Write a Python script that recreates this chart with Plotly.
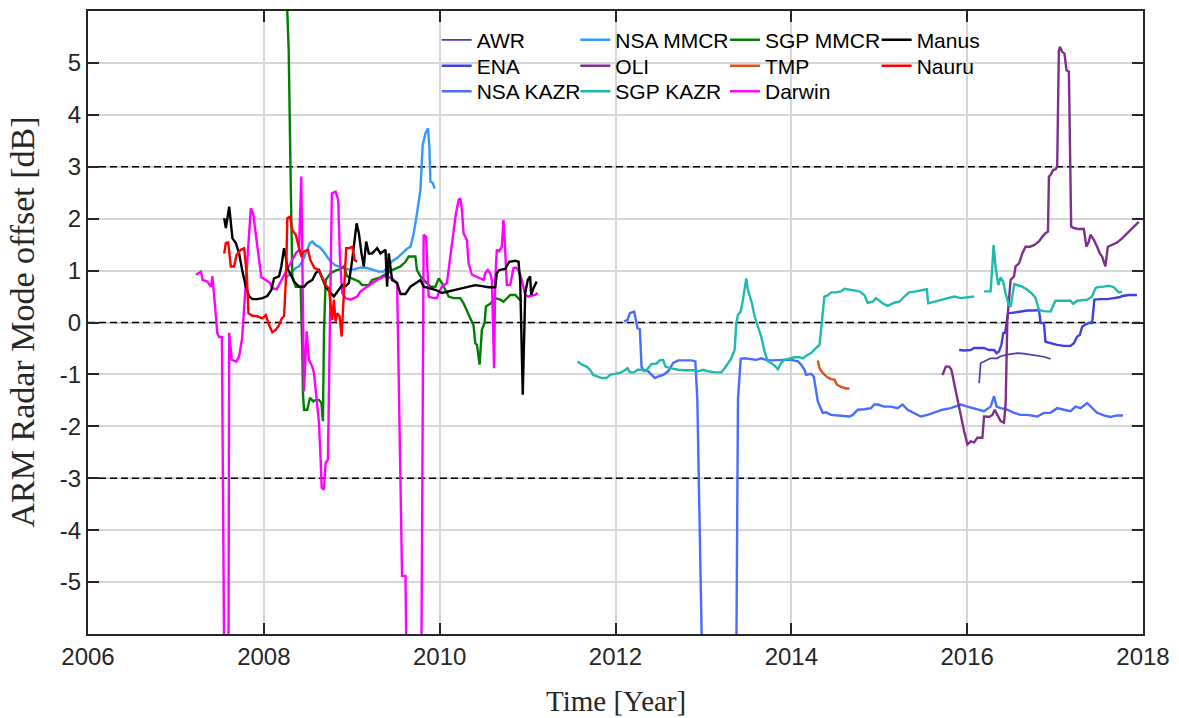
import plotly.graph_objects as go

# ---------------- data (year, dB) ----------------
awr_t = [2016.136, 2016.154, 2016.192, 2016.267, 2016.343, 2016.381, 2016.457, 2016.533, 2016.570, 2016.646, 2016.721, 2016.797, 2016.873, 2016.948]
awr_v = [-1.17, -0.78, -0.75, -0.69, -0.69, -0.65, -0.62, -0.59, -0.59, -0.60, -0.62, -0.64, -0.66, -0.70]

ena_t = [2015.909, 2015.966, 2016.040, 2016.079, 2016.116, 2016.192, 2016.249, 2016.306, 2016.335, 2016.362,
         2016.389, 2016.411, 2016.431, 2016.465, 2016.487, 2016.533, 2016.608, 2016.684, 2016.760, 2016.817,
         2016.835, 2016.873, 2016.891, 2016.948, 2017.024, 2017.100, 2017.175, 2017.214, 2017.251, 2017.281,
         2017.308, 2017.345, 2017.384, 2017.421, 2017.447, 2017.515, 2017.592, 2017.667, 2017.742, 2017.762,
         2017.838, 2017.932]
ena_v = [-0.53, -0.54, -0.53, -0.49, -0.49, -0.49, -0.53, -0.53, -0.59, -0.56,
         -0.43, -0.20, -0.20, 0.18, 0.18, 0.19, 0.21, 0.23, 0.23, 0.24,
         -0.01, -0.01, -0.37, -0.40, -0.43, -0.45, -0.45, -0.40, -0.27, -0.24,
         -0.08, -0.04, -0.01, -0.01, 0.44, 0.45, 0.45, 0.47, 0.49, 0.51,
         0.53, 0.53]

nsa_kazr_t = [2012.099, 2012.137, 2012.164, 2012.213, 2012.250, 2012.277, 2012.296, 2012.315, 2012.372, 2012.409,
              2012.448, 2012.485, 2012.542, 2012.599, 2012.656, 2012.712, 2012.788, 2012.863, 2012.908, 2012.931,
              2012.985, 2013.374, 2013.393, 2013.424, 2013.469, 2013.544, 2013.601, 2013.657, 2013.714, 2013.771,
              2013.847, 2013.923, 2013.998, 2014.074, 2014.111, 2014.150, 2014.168, 2014.225, 2014.255, 2014.281,
              2014.301, 2014.357, 2014.395, 2014.452, 2014.565, 2014.661, 2014.698, 2014.755, 2014.831, 2014.906,
              2014.944, 2014.982, 2015.058, 2015.133, 2015.209, 2015.265, 2015.322, 2015.398, 2015.473, 2015.549,
              2015.625, 2015.719, 2015.813, 2015.927, 2016.003, 2016.116, 2016.192, 2016.267, 2016.306, 2016.335,
              2016.381, 2016.457, 2016.533, 2016.608, 2016.684, 2016.797, 2016.873, 2016.948, 2017.024, 2017.100,
              2017.175, 2017.232, 2017.289, 2017.365, 2017.421, 2017.478, 2017.554, 2017.629, 2017.705, 2017.773]
nsa_kazr_v = [0.02, 0.05, 0.18, 0.21, -0.11, -0.13, -0.85, -0.91, -0.94, -1.01,
              -1.07, -1.04, -1.01, -0.94, -0.78, -0.73, -0.73, -0.73, -0.75, -1.49,
              -6.5, -6.5, -1.49, -0.70, -0.69, -0.70, -0.72, -0.69, -0.72, -0.73,
              -0.72, -0.72, -0.72, -0.75, -0.81, -0.91, -1.01, -0.99, -1.04, -1.36,
              -1.52, -1.74, -1.73, -1.78, -1.79, -1.81, -1.78, -1.68, -1.67, -1.65,
              -1.58, -1.58, -1.62, -1.62, -1.65, -1.58, -1.68, -1.74, -1.81, -1.78,
              -1.74, -1.68, -1.65, -1.58, -1.62, -1.68, -1.71, -1.62, -1.42, -1.62,
              -1.65, -1.68, -1.74, -1.78, -1.78, -1.81, -1.74, -1.74, -1.65, -1.68,
              -1.71, -1.62, -1.65, -1.55, -1.65, -1.74, -1.79, -1.82, -1.79, -1.79]

nsa_mmcr_t = [2008.249, 2008.306, 2008.363, 2008.400, 2008.437, 2008.468, 2008.525, 2008.551, 2008.590, 2008.627,
              2008.664, 2008.703, 2008.760, 2008.816, 2008.891, 2008.967, 2009.024, 2009.100, 2009.175, 2009.251,
              2009.308, 2009.365, 2009.459, 2009.516, 2009.572, 2009.629, 2009.668, 2009.705, 2009.742, 2009.781,
              2009.807, 2009.838, 2009.867, 2009.883, 2009.895, 2009.921, 2009.943]
nsa_mmcr_v = [0.85, 0.95, 1.05, 1.08, 1.17, 1.30, 1.53, 1.56, 1.49, 1.46,
              1.40, 1.31, 1.17, 1.10, 1.06, 1.02, 1.02, 1.06, 1.05, 1.01,
              0.98, 0.98, 1.18, 1.24, 1.33, 1.42, 1.46, 1.72, 2.10, 2.55,
              3.42, 3.64, 3.74, 3.38, 2.71, 2.69, 2.58]

oli_t = [2015.719, 2015.757, 2015.795, 2015.821, 2015.852, 2015.889, 2015.927, 2015.966, 2016.003, 2016.040,
         2016.079, 2016.116, 2016.173, 2016.192, 2016.210, 2016.249, 2016.287, 2016.313, 2016.343, 2016.381,
         2016.419, 2016.438, 2016.457, 2016.494, 2016.533, 2016.551, 2016.590, 2016.627, 2016.664, 2016.714,
         2016.760, 2016.817, 2016.854, 2016.891, 2016.919, 2016.930, 2016.948, 2016.979, 2017.005, 2017.024,
         2017.043, 2017.055, 2017.081, 2017.107, 2017.130, 2017.157, 2017.183, 2017.214, 2017.270, 2017.327,
         2017.356, 2017.384, 2017.402, 2017.441, 2017.478, 2017.509, 2017.535, 2017.572, 2017.600, 2017.648,
         2017.705, 2017.762, 2017.818, 2017.856, 2017.894, 2017.951]
oli_v = [-1.01, -0.85, -0.85, -0.91, -1.17, -1.49, -1.81, -2.10, -2.35, -2.29,
         -2.31, -2.22, -2.22, -1.81, -1.81, -1.82, -1.78, -1.68, -1.78, -1.90,
         -1.93, -1.55, 0.05, 0.82, 0.89, 1.08, 1.14, 1.33, 1.46, 1.46,
         1.49, 1.56, 1.65, 1.72, 1.75, 2.81, 2.84, 2.94, 2.95, 3.00,
         5.24, 5.31, 5.21, 5.18, 4.86, 4.83, 1.85, 1.82, 1.80, 1.80,
         1.46, 1.56, 1.69, 1.59, 1.46, 1.33, 1.27, 1.08, 1.46, 1.49,
         1.54, 1.62, 1.72, 1.78, 1.85, 1.94]

sgp_kazr_t = [2011.569, 2011.615, 2011.671, 2011.710, 2011.747, 2011.785, 2011.842, 2011.898, 2011.937, 2011.994,
              2012.050, 2012.088, 2012.137, 2012.164, 2012.213, 2012.250, 2012.296, 2012.334, 2012.372, 2012.409,
              2012.466, 2012.504, 2012.542, 2012.568, 2012.618, 2012.712, 2012.788, 2012.901, 2012.939, 2012.996,
              2013.052, 2013.128, 2013.203, 2013.242, 2013.279, 2013.317, 2013.355, 2013.374, 2013.393, 2013.424,
              2013.450, 2013.469, 2013.487, 2013.506, 2013.526, 2013.552, 2013.582, 2013.620, 2013.657, 2013.696,
              2013.733, 2013.771, 2013.810, 2013.847, 2013.884, 2013.923, 2013.980, 2014.036, 2014.093, 2014.131,
              2014.168, 2014.225, 2014.281, 2014.320, 2014.346, 2014.376, 2014.414, 2014.452, 2014.508, 2014.565,
              2014.604, 2014.661, 2014.717, 2014.774, 2014.831, 2014.868, 2014.925, 2014.962, 2015.038, 2015.095,
              2015.171, 2015.228, 2015.285, 2015.341, 2015.416, 2015.492, 2015.541, 2015.557, 2015.625, 2015.700,
              2015.776, 2015.852, 2015.927, 2016.003, 2016.079, 2016.130, 2016.192, 2016.267, 2016.301, 2016.324,
              2016.355, 2016.381, 2016.411, 2016.438, 2016.476, 2016.494, 2016.536, 2016.570, 2016.627, 2016.684,
              2016.740, 2016.778, 2016.817, 2016.873, 2016.948, 2017.005, 2017.100, 2017.175, 2017.206, 2017.251,
              2017.365, 2017.421, 2017.459, 2017.478, 2017.554, 2017.611, 2017.667, 2017.724, 2017.762]
sgp_kazr_v = [-0.75, -0.81, -0.85, -0.91, -1.01, -1.03, -1.07, -1.07, -1.01, -0.99,
              -0.97, -0.94, -0.88, -0.96, -0.96, -0.91, -0.91, -0.94, -0.88, -0.80,
              -0.79, -0.73, -0.72, -0.85, -0.88, -0.91, -0.92, -0.92, -0.94, -0.91,
              -0.94, -0.96, -0.96, -0.88, -0.78, -0.69, -0.53, -0.01, 0.15, 0.21,
              0.44, 0.63, 0.85, 0.63, 0.53, 0.37, 0.12, -0.08, -0.27, -0.56,
              -0.75, -0.78, -0.83, -0.90, -0.78, -0.72, -0.70, -0.67, -0.67, -0.69,
              -0.64, -0.59, -0.49, -0.43, -0.01, 0.50, 0.52, 0.58, 0.58, 0.60,
              0.65, 0.63, 0.61, 0.60, 0.53, 0.38, 0.40, 0.47, 0.37, 0.32,
              0.38, 0.40, 0.50, 0.58, 0.60, 0.62, 0.64, 0.37, 0.40, 0.44,
              0.47, 0.50, 0.47, 0.49, 0.50, None, 0.60, 0.60, 1.49, 1.05,
              0.72, 0.87, 0.78, 0.55, 0.34, 0.30, 0.74, 0.72, 0.69, 0.63,
              0.55, 0.47, 0.24, 0.22, 0.21, 0.42, 0.42, 0.42, 0.36, 0.42,
              0.44, 0.50, 0.66, 0.68, 0.69, 0.71, 0.68, 0.58, 0.59]

sgp_mmcr_t = [2008.256, 2008.283, 2008.303, 2008.324, 2008.363, 2008.419, 2008.437, 2008.445, 2008.457, 2008.494,
              2008.525, 2008.562, 2008.590, 2008.627, 2008.655, 2008.672, 2008.684, 2008.695, 2008.703, 2008.760,
              2008.816, 2008.873, 2008.911, 2008.948, 2009.005, 2009.081, 2009.118, 2009.194, 2009.232, 2009.289,
              2009.327, 2009.402, 2009.459, 2009.554, 2009.611, 2009.648, 2009.724, 2009.742, 2009.781, 2009.830,
              2009.895, 2009.951, 2009.989, 2010.026, 2010.065, 2010.102, 2010.159, 2010.235, 2010.272, 2010.310,
              2010.348, 2010.386, 2010.405, 2010.424, 2010.454, 2010.480, 2010.511, 2010.526, 2010.575, 2010.632,
              2010.689, 2010.726, 2010.764, 2010.802, 2010.859, 2010.897, 2010.934]
sgp_mmcr_v = [6.5, 5.24, 3.0, 0.90, 0.69, 0.69, -0.50, -1.36, -1.68, -1.68,
              -1.45, -1.52, -1.49, -1.49, -1.55, -1.90, -0.20, 0.44, 0.82, 0.95,
              1.00, 1.03, 1.08, 0.89, 0.85, 0.79, 0.72, 0.72, 0.82, 0.85,
              0.87, 0.95, 1.01, 1.08, 1.17, 1.27, 1.27, 1.01, 0.89, 0.80,
              0.69, 0.69, 0.85, 0.76, 0.63, 0.50, 0.47, 0.47, 0.37, 0.21,
              0.08, -0.06, -0.40, -0.43, -0.81, -0.14, -0.01, 0.31, 0.36, 0.47,
              0.44, 0.40, 0.47, 0.53, 0.53, 0.47, 0.40]

tmp_t = [2014.301, 2014.320, 2014.357, 2014.406, 2014.452, 2014.490, 2014.520, 2014.565, 2014.622, 2014.661]
tmp_v = [-0.73, -0.88, -0.97, -1.05, -1.09, -1.10, -1.20, -1.24, -1.27, -1.27]

darwin_t = [2007.228, 2007.285, 2007.303, 2007.359, 2007.398, 2007.416, 2007.455, 2007.470, 2007.492, 2007.523,
            2007.549, 2007.598, 2007.606, 2007.636, 2007.689, 2007.719, 2007.753, 2007.852, 2007.878, 2007.909,
            2007.927, 2007.946, 2007.972, 2008.022, 2008.071, 2008.097, 2008.147, 2008.192, 2008.249, 2008.324,
            2008.363, 2008.400, 2008.426, 2008.457, 2008.487, 2008.513, 2008.551, 2008.570, 2008.608, 2008.627,
            2008.646, 2008.658, 2008.684, 2008.703, 2008.729, 2008.760, 2008.774, 2008.816, 2008.846, 2008.865,
            2008.891, 2008.930, 2008.987, 2009.062, 2009.100, 2009.175, 2009.232, 2009.289, 2009.345, 2009.384,
            2009.459, 2009.516, 2009.572, 2009.611, 2009.622, 2009.792, 2009.818, 2009.845, 2009.875, 2009.932,
            2009.969, 2009.989, 2010.026, 2010.083, 2010.121, 2010.159, 2010.185, 2010.216, 2010.235, 2010.253,
            2010.272, 2010.310, 2010.329, 2010.367, 2010.443, 2010.499, 2010.519, 2010.548, 2010.575, 2010.594,
            2010.619, 2010.632, 2010.650, 2010.677, 2010.707, 2010.726, 2010.738, 2010.752, 2010.764, 2010.802,
            2010.820, 2010.840, 2010.866, 2010.897, 2010.934, 2010.973, 2011.010, 2011.086, 2011.116]
darwin_v = [0.92, 0.98, 0.82, 0.79, 0.69, 0.89, 0.12, -0.20, -0.28, -0.28,
            -6.5, -6.5, -0.20, -0.72, -0.75, -0.65, -0.30, 2.20, 2.10, 1.72,
            1.40, 1.27, 0.87, 0.82, 0.76, 0.66, 0.64, 0.79, 0.98, 1.20,
            1.33, 1.40, 2.81, -1.33, -0.17, -0.72, -0.85, -0.97, -1.68, -1.93,
            -2.64, -3.18, -3.22, -2.70, -2.64, 0.44, 2.49, 2.52, 2.36, 1.27,
            0.57, 0.47, 0.44, 0.50, 0.60, 0.69, 0.76, 0.82, 0.87, 0.89,
            0.85, 0.76, -4.88, -4.88, -6.5, -6.5, 1.69, 1.65, 0.50, 0.47,
            0.47, 0.57, 0.69, 0.76, 1.27, 1.78, 2.10, 2.36, 2.39, 2.17,
            1.72, 1.59, 1.14, 0.92, 0.87, 0.82, 0.95, 1.01, 0.95, 0.82,
            -0.88, 0.82, 1.40, 1.37, 1.46, 1.98, 1.65, 1.14, 0.72, 0.72,
            0.89, 1.05, 1.06, 1.01, 0.82, 0.53, 0.50, 0.53, 0.57]

manus_t = [2007.549, 2007.568, 2007.606, 2007.625, 2007.643, 2007.682, 2007.719, 2007.757, 2007.795, 2007.833,
           2007.870, 2007.927, 2007.984, 2008.040, 2008.086, 2008.116, 2008.173, 2008.199, 2008.230, 2008.249,
           2008.267, 2008.306, 2008.343, 2008.400, 2008.457, 2008.494, 2008.551, 2008.590, 2008.627, 2008.664,
           2008.703, 2008.760, 2008.797, 2008.891, 2008.930, 2008.967, 2009.005, 2009.055, 2009.081, 2009.111,
           2009.137, 2009.164, 2009.194, 2009.232, 2009.289, 2009.327, 2009.384, 2009.402, 2009.421, 2009.459,
           2009.516, 2009.554, 2009.611, 2009.668, 2009.724, 2009.781, 2009.818, 2009.875, 2009.951, 2010.026,
           2010.102, 2010.178, 2010.253, 2010.329, 2010.405, 2010.480, 2010.556, 2010.632, 2010.650, 2010.677,
           2010.745, 2010.791, 2010.859, 2010.897, 2010.916, 2010.945, 2010.973, 2011.002, 2011.029, 2011.041,
           2011.067, 2011.104]
manus_v = [2.01, 1.82, 2.23, 1.94, 1.62, 1.53, 1.33, 0.98, 0.69, 0.50,
           0.45, 0.45, 0.47, 0.51, 0.63, 0.85, 0.89, 1.08, 1.43, 1.27,
           1.05, 0.92, 0.79, 0.69, 0.69, 0.76, 0.82, 0.95, 1.01, 0.85,
           0.69, 0.57, 0.50, 0.72, 0.70, 0.76, 1.20, 1.91, 1.72, 1.33,
           1.08, 1.56, 1.33, 1.33, 1.43, 1.33, 1.40, 0.69, 1.33, 0.82,
           0.76, 0.55, 0.55, 0.69, 0.76, 0.82, 0.69, 0.66, 0.63, 0.57,
           0.60, 0.63, 0.66, 0.69, 0.72, 0.70, 0.68, 0.68, 0.95, 1.01,
           1.03, 1.17, 1.19, 1.17, 0.80, -1.39, 0.57, 0.82, 0.89, 0.53,
           0.66, 0.79]

nauru_t = [2007.549, 2007.568, 2007.594, 2007.625, 2007.662, 2007.689, 2007.738, 2007.776, 2007.807, 2007.825,
           2007.870, 2007.927, 2007.984, 2008.022, 2008.060, 2008.097, 2008.136, 2008.173, 2008.204, 2008.230,
           2008.253, 2008.267, 2008.298, 2008.324, 2008.363, 2008.400, 2008.426, 2008.457, 2008.502, 2008.530,
           2008.576, 2008.627, 2008.664, 2008.703, 2008.740, 2008.778, 2008.797, 2008.816, 2008.835, 2008.862,
           2008.885, 2008.922, 2008.937, 2008.967, 2009.005, 2009.035, 2009.062]
nauru_v = [1.33, 1.53, 1.54, 1.08, 1.08, 1.30, 1.40, 1.43, 0.89, 0.18,
           0.13, 0.12, 0.08, 0.14, -0.05, -0.19, -0.14, -0.05, 0.08, 0.12,
           0.90, 2.01, 2.04, 1.78, 1.69, 1.46, 1.27, 1.37, 1.40, 1.20,
           1.05, 1.01, 0.85, 0.72, 0.66, 0.05, 0.44, 0.02, 0.18, 0.12,
           -0.27, 0.95, 1.43, 1.43, 1.46, 1.20, 1.17]

x_ticks = [2006, 2008, 2010, 2012, 2014, 2016, 2018]
y_ticks = [-5, -4, -3, -2, -1, 0, 1, 2, 3, 4, 5]
y_ticklabels = [str(v) for v in y_ticks]
dashed_levels = [-3, 0, 3]

# ---------------- figure ----------------
# (name, t, v, colour, width, legend column, legend row)
series = [
    ("AWR", awr_t, awr_v, "#4A3CB4", 1.7, 0, 0),
    ("ENA", ena_t, ena_v, "#4040E6", 2.4, 0, 1),
    ("NSA KAZR", nsa_kazr_t, nsa_kazr_v, "#4A6CFF", 2.4, 0, 2),
    ("NSA MMCR", nsa_mmcr_t, nsa_mmcr_v, "#3399FF", 2.4, 1, 0),
    ("OLI", oli_t, oli_v, "#7E2F8E", 2.4, 1, 1),
    ("SGP KAZR", sgp_kazr_t, sgp_kazr_v, "#1FBAAE", 2.4, 1, 2),
    ("SGP MMCR", sgp_mmcr_t, sgp_mmcr_v, "#008000", 2.4, 2, 0),
    ("TMP", tmp_t, tmp_v, "#D95319", 2.4, 2, 1),
    ("Darwin", darwin_t, darwin_v, "#FF00FF", 2.4, 2, 2),
    ("Manus", manus_t, manus_v, "#000000", 2.4, 3, 0),
    ("Nauru", nauru_t, nauru_v, "#FF0000", 2.4, 3, 1),
]

fig = go.Figure()

# dashed reference lines (drawn first: above grid, below data)
for lev in dashed_levels:
    fig.add_trace(go.Scatter(x=[x_ticks[0], x_ticks[-1]], y=[lev, lev], mode="lines",
                             line=dict(color="black", width=1.4, dash="7px,4px"),
                             showlegend=False, hoverinfo="skip"))

L, R, T, B = 88.5, 1146.0, 9.0, 634.0
def px2x(px):
    return (px - L) / (R - L)
def px2y(py):
    return 1 - (py - T) / (B - T)

col_left_px = [438, 577, 727, 879]
row_center_px = [41.7, 67.7, 93.3]
leg_font = dict(family="Liberation Sans, Arial", size=21, color="black")

legends = {}
for i, (name, t, v, col, w, c, r) in enumerate(series):
    assert len(t) == len(v), name
    key = "legend" if i == 0 else f"legend{i+1}"
    fig.add_trace(go.Scatter(x=t, y=v, mode="lines", name=name, legend=key,
                             line=dict(color=col, width=w), connectgaps=False))
    legends[key] = dict(x=px2x(col_left_px[c]), xanchor="left",
                        y=px2y(row_center_px[r] - 24), yanchor="top",
                        font=leg_font, bgcolor="rgba(0,0,0,0)", borderwidth=0,
                        orientation="v", itemwidth=30)

axis_common = dict(showline=True, linecolor="#262626", linewidth=2, mirror="ticks",
                   ticks="inside", ticklen=11, tickwidth=2, tickcolor="#262626",
                   showgrid=True, gridcolor="#D6D6D6", gridwidth=2, zeroline=False,
                   tickfont=dict(family="Liberation Sans, Arial", size=24, color="#262626"))

fig.update_xaxes(range=[2006, 2018], tickvals=x_ticks, ticktext=[str(v) for v in x_ticks], **axis_common)
fig.update_yaxes(range=[-6, 6], tickvals=y_ticks, ticktext=y_ticklabels, **axis_common)

fig.update_layout(
    width=1179, height=718,
    margin=dict(l=88, r=33, t=9, b=84),
    plot_bgcolor="white", paper_bgcolor="white",
    annotations=[
        dict(text="Time [Year]", xref="paper", yref="paper", x=0.5, y=0, yanchor="middle",
             yshift=-67, showarrow=False,
             font=dict(family="Liberation Serif, Times New Roman", size=29, color="#262626")),
        dict(text="ARM Radar Mode offset [dB]", xref="paper", yref="paper", x=0, y=0.5,
             xanchor="center", yanchor="middle", xshift=-66, textangle=-90, showarrow=False,
             font=dict(family="Liberation Serif, Times New Roman", size=34, color="#262626")),
    ],
    **legends,
)

fig.write_html("out.html", config={"displayModeBar": False},
               post_script="document.body.style.margin='0';document.body.style.overflow='hidden';")
